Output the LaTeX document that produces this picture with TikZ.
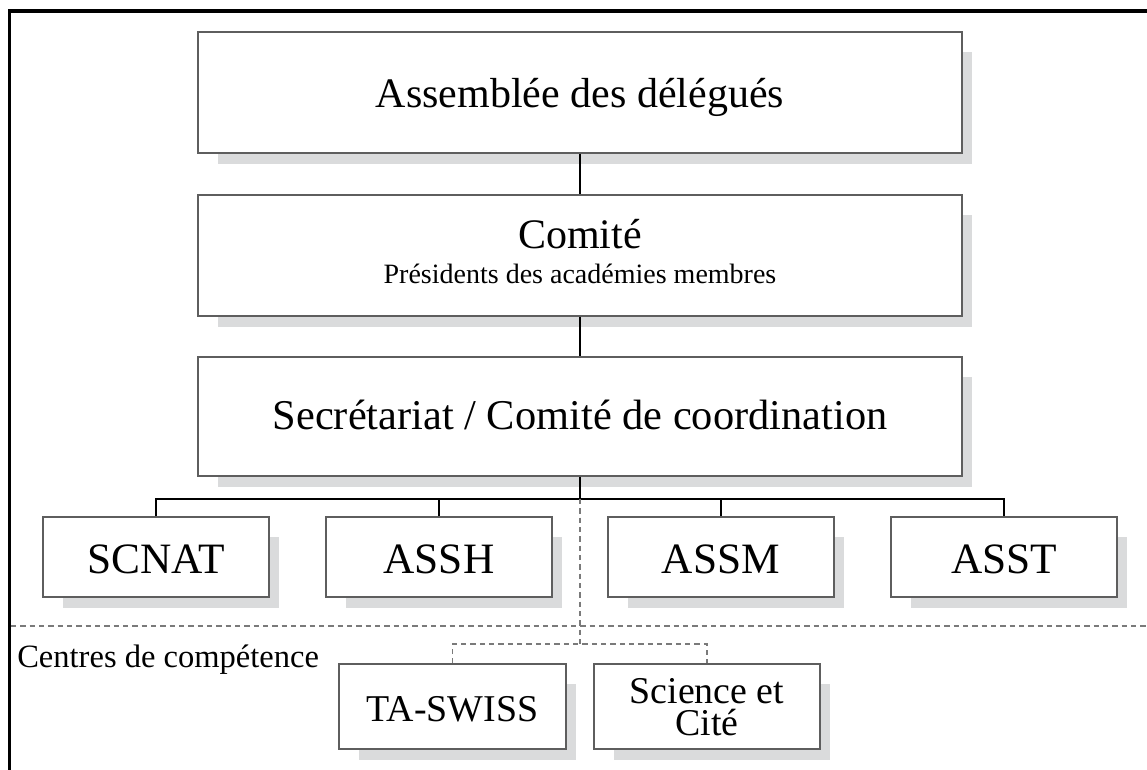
\documentclass[tikz,border=0pt]{standalone}
\usepackage{fontspec}
\setmainfont{Liberation Serif}
\definecolor{shadowc}{HTML}{DADBDC}
\definecolor{edgec}{HTML}{5E5E5E}
\definecolor{dashc}{HTML}{7A7A7A}
\tikzset{
  orgbox/.style={draw=edgec, line width=0.9pt, fill=white, inner sep=0pt, rectangle},
  lbl/.style={inner sep=0pt, anchor=base},
  conn/.style={line width=1.5pt, black},
  dashline/.style={line width=0.9pt, dashc, dash pattern=on 4pt off 3pt},
  framel/.style={line width=2.4pt, black}
}
\newcommand\orgnode[5]{%
  \fill[shadowc] ({#2+20},{#3+20}) rectangle ({#4+10},{#5+11});
  \node[orgbox, minimum width={(#4-#2)*0.75pt}, minimum height={(#5-#3)*0.75pt}] (#1) at ({(#2+#4)/2},{(#3+#5)/2}) {};
}
\begin{document}
\begin{tikzpicture}[x=0.75pt,y=-0.75pt]
\useasboundingbox (0,0) rectangle (1147,770);
% frame
\coordinate (fbl) at (9.5,770);
\coordinate (ftl) at (9.5,11);
\coordinate (ftr) at (1147,11);
\draw[framel] (fbl) -- (ftl) -- (ftr);
% boxes
\orgnode{ad}{198}{32}{962}{153}
\orgnode{co}{198}{195}{962}{316}
\orgnode{se}{198}{357}{962}{476}
\orgnode{scnat}{43}{517}{269}{597}
\orgnode{assh}{326}{517}{552}{597}
\orgnode{assm}{608}{517}{834}{597}
\orgnode{asst}{891}{517}{1117}{597}
\orgnode{ta}{339}{664}{566}{749}
\orgnode{sc}{594}{664}{820}{749}
% texts
\fontsize{31.5pt}{33pt}\selectfont
\node[lbl] (tad) at (580,108) {Assemblée des délégués};
\node[lbl] (tco) at (580,248) {Comité};
\node[lbl, font=\fontsize{21pt}{22pt}\selectfont] (tco2) at (580,283) {Présidents des académies membres};
\node[lbl, font=\fontsize{31.8pt}{33pt}\selectfont] (tse) at (580,429) {Secrétariat / Comité de coordination};
\tikzset{small/.style={lbl, font=\fontsize{32.5pt}{34pt}\selectfont}}
\node[small] (tscnat) at (156,573) {SCNAT};
\node[small] (tassh) at (439,573) {ASSH};
\node[small] (tassm) at (721,573) {ASSM};
\node[small] (tasst) at (1004,573) {ASST};
\node[lbl, font=\fontsize{28.4pt}{29pt}\selectfont] (tta) at (452.5,721) {TA-SWISS};
\node[inner sep=0pt, align=center, anchor=center, font=\fontsize{28.4pt}{24pt}\selectfont] (tsc) at (707,707) {Science et\\Cité};
\node[inner sep=0pt, anchor=base west, font=\fontsize{24.4pt}{26pt}\selectfont] (tcc) at (17,667) {Centres de compétence};
% connectors
\coordinate (bus) at (580,499);
\draw[conn] (ad.south) -- (co.north);
\draw[conn] (co.south) -- (se.north);
\draw[conn] (se.south) -- (bus);
\draw[conn] (scnat.north) |- (bus) -| (asst.north);
\draw[conn] (assh.north) -- (assh.north |- bus);
\draw[conn] (assm.north) -- (assm.north |- bus);
% dashed
\coordinate (sepL) at (11,626);
\coordinate (sepR) at (1147,626);
\draw[dashline] (sepL) -- (sepR);
\coordinate (dj) at (580,644);
\draw[dashline] (bus) -- (dj);
\draw[dashline] (ta.north) |- (dj) -| (sc.north);
\end{tikzpicture}
\end{document}
